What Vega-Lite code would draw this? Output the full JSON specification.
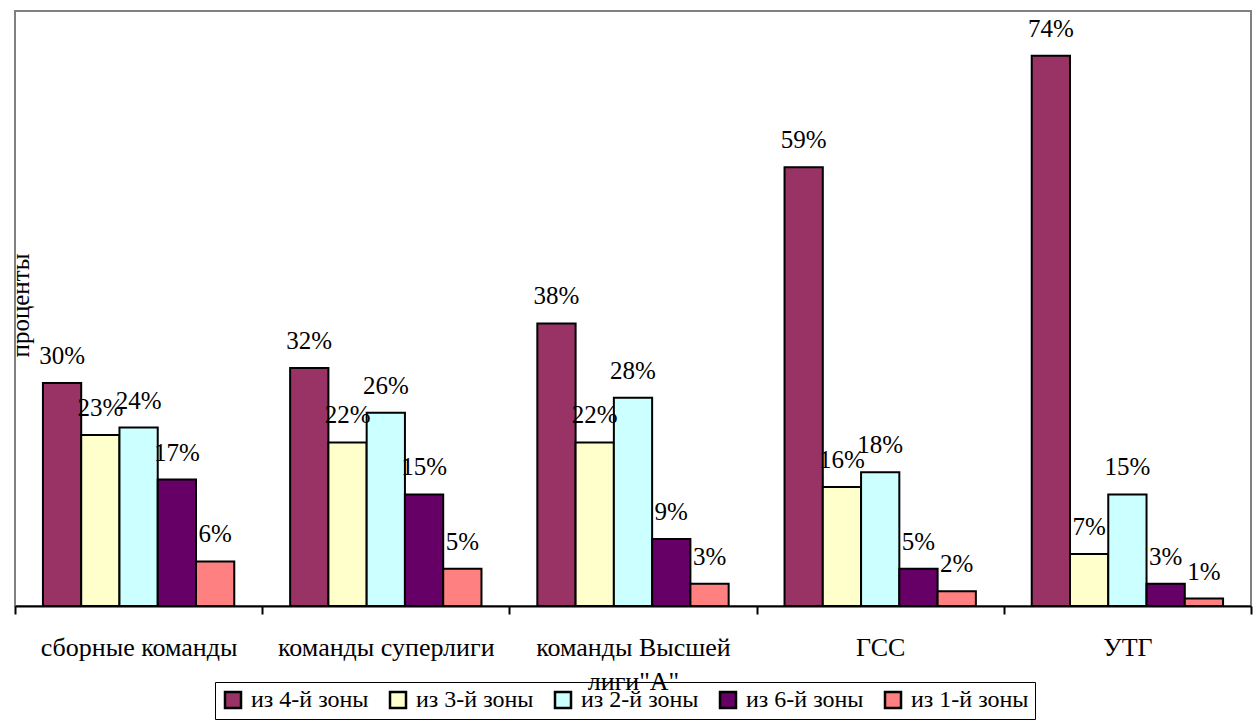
{
  "$schema": "https://vega.github.io/schema/vega-lite/v6.json",
  "width": 1236,
  "height": 595,
  "autosize": {"type": "none"},
  "padding": {"left": 15, "top": 11, "right": 5, "bottom": 118},
  "config": {
    "font": "Liberation Serif",
    "view": {"stroke": "#808080", "strokeWidth": 2}
  },
  "data": {
    "values": [
      {"cat": "сборные команды", "zone": "из 4-й зоны", "v": 0.30},
      {"cat": "сборные команды", "zone": "из 3-й зоны", "v": 0.23},
      {"cat": "сборные команды", "zone": "из 2-й зоны", "v": 0.24},
      {"cat": "сборные команды", "zone": "из 6-й зоны", "v": 0.17},
      {"cat": "сборные команды", "zone": "из 1-й зоны", "v": 0.06},
      {"cat": "команды суперлиги", "zone": "из 4-й зоны", "v": 0.32},
      {"cat": "команды суперлиги", "zone": "из 3-й зоны", "v": 0.22},
      {"cat": "команды суперлиги", "zone": "из 2-й зоны", "v": 0.26},
      {"cat": "команды суперлиги", "zone": "из 6-й зоны", "v": 0.15},
      {"cat": "команды суперлиги", "zone": "из 1-й зоны", "v": 0.05},
      {"cat": "команды Высшей лиги\"А\"", "zone": "из 4-й зоны", "v": 0.38},
      {"cat": "команды Высшей лиги\"А\"", "zone": "из 3-й зоны", "v": 0.22},
      {"cat": "команды Высшей лиги\"А\"", "zone": "из 2-й зоны", "v": 0.28},
      {"cat": "команды Высшей лиги\"А\"", "zone": "из 6-й зоны", "v": 0.09},
      {"cat": "команды Высшей лиги\"А\"", "zone": "из 1-й зоны", "v": 0.03},
      {"cat": "ГСС", "zone": "из 4-й зоны", "v": 0.59},
      {"cat": "ГСС", "zone": "из 3-й зоны", "v": 0.16},
      {"cat": "ГСС", "zone": "из 2-й зоны", "v": 0.18},
      {"cat": "ГСС", "zone": "из 6-й зоны", "v": 0.05},
      {"cat": "ГСС", "zone": "из 1-й зоны", "v": 0.02},
      {"cat": "УТГ", "zone": "из 4-й зоны", "v": 0.74},
      {"cat": "УТГ", "zone": "из 3-й зоны", "v": 0.07},
      {"cat": "УТГ", "zone": "из 2-й зоны", "v": 0.15},
      {"cat": "УТГ", "zone": "из 6-й зоны", "v": 0.03},
      {"cat": "УТГ", "zone": "из 1-й зоны", "v": 0.01}
    ]
  },
  "encoding": {
    "x": {
      "field": "cat", "type": "nominal",
      "sort": ["сборные команды", "команды суперлиги", "команды Высшей лиги\"А\"", "ГСС", "УТГ"],
      "scale": {"paddingInner": 0, "paddingOuter": 0},
      "axis": {
        "title": null, "labelAngle": 0, "labelFontSize": 26, "labelColor": "black",
        "labelFont": "Liberation Serif", "labelBaseline": "top", "labelPadding": 20,
        "labelLimit": 0, "labelLineHeight": 34,
        "labelExpr": "datum.label == 'команды Высшей лиги\"А\"' ? ['команды Высшей', 'лиги\"А\"'] : datum.label",
        "tickBand": "extent", "tickSize": 8, "tickColor": "black", "tickWidth": 2,
        "domainColor": "black", "domainWidth": 2
      }
    },
    "xOffset": {
      "field": "zone", "type": "nominal",
      "sort": ["из 4-й зоны", "из 3-й зоны", "из 2-й зоны", "из 6-й зоны", "из 1-й зоны"],
      "scale": {"paddingInner": 0, "paddingOuter": 0.73}
    },
    "y": {
      "field": "v", "type": "quantitative",
      "scale": {"domain": [0, 0.8], "nice": false},
      "axis": {
        "title": "проценты", "titleFont": "Liberation Serif", "titleFontSize": 25,
        "titleFontWeight": "normal", "titleColor": "black",
        "titleAngle": 270, "titleX": 5, "titleY": 294, "titleBaseline": "middle", "titleAlign": "center",
        "labels": false, "ticks": false, "grid": false, "domain": false
      }
    }
  },
  "layer": [
    {
      "mark": {"type": "bar", "stroke": "black", "strokeWidth": 2},
      "encoding": {
        "color": {
          "field": "zone", "type": "nominal",
          "sort": ["из 4-й зоны", "из 3-й зоны", "из 2-й зоны", "из 6-й зоны", "из 1-й зоны"],
          "scale": {
            "domain": ["из 4-й зоны", "из 3-й зоны", "из 2-й зоны", "из 6-й зоны", "из 1-й зоны"],
            "range": ["#993366", "#FFFFCC", "#CCFFFF", "#660066", "#FF8080"]
          },
          "legend": {
            "title": null, "orient": "none", "legendX": 200, "legendY": 671,
            "direction": "horizontal", "columns": 5,
            "symbolType": "square", "symbolSize": 256, "symbolStrokeColor": "black",
            "symbolStrokeWidth": 2.5, "symbolOpacity": 1,
            "labelFont": "Liberation Serif", "labelFontSize": 24, "labelColor": "black",
            "labelOffset": 6, "columnPadding": 16, "padding": 6,
            "strokeColor": "black", "labelLimit": 0
          }
        }
      }
    },
    {
      "mark": {"type": "text", "dy": -27, "fontSize": 25, "baseline": "middle", "font": "Liberation Serif", "color": "black"},
      "encoding": {
        "text": {"field": "v", "type": "quantitative", "format": ".0%"}
      }
    }
  ]
}
